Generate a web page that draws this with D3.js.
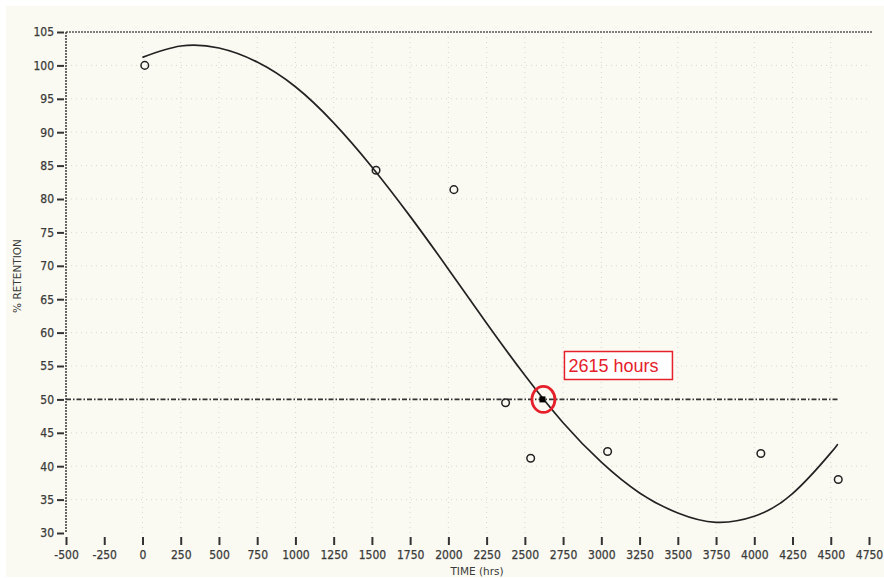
<!DOCTYPE html>
<html>
<head>
<meta charset="utf-8">
<script src="https://cdn.jsdelivr.net/npm/d3@7/dist/d3.min.js"></script>
<style>
  html, body { margin: 0; padding: 0; background: #ffffff; }
  svg { display: block; }
  .tick text { font-family: "DejaVu Sans Condensed", "DejaVu Sans", sans-serif; font-stretch: condensed; fill: #3a3a3a; stroke: #3a3a3a; stroke-width: 0.25px; }
</style>
</head>
<body>
<svg id="chart" width="884" height="578"></svg>
<script>
// Measured retention (%) at each test time (hrs)
const sampleHours = [15, 1527, 2036, 2374, 2538, 3041, 4043, 4549];
const sampleRetention = [100.0, 84.3, 81.4, 49.5, 41.2, 42.2, 41.9, 38.0];

// Fitted retention trend, time (hrs) vs % retention
const fitHours = [0, 250, 500, 750, 1000, 1250, 1500, 1750, 2000, 2250, 2500, 2750, 3000, 3250, 3500, 3750, 4000, 4250, 4500, 4540];
const fitRetention = [101.2, 102.9, 102.6, 100.5, 96.8, 91.4, 84.8, 77.4, 69.5, 61.4, 53.6, 46.5, 40.6, 36.0, 33.0, 31.6, 32.5, 35.9, 42.0, 43.2];

// Half-life marker
const halfLifeHours = 2615;
const halfLifeRetention = 50;
const halfLifeLabel = "2615 hours";

// Axis ticks
const xTicks = d3.range(-500, 4751, 250);
const yTicks = d3.range(30, 106, 5);
const xTitle = "TIME (hrs)";
const yTitle = "% RETENTION";

const svg = d3.select("#chart");

// paper background
svg.append("rect").attr("x", 6).attr("y", 6).attr("width", 878).attr("height", 571).attr("fill", "#fbfaf2");

const x = d3.scaleLinear().domain([-500, 4750]).range([66, 869]);
const y = d3.scaleLinear().domain([30, 105]).range([533, 32]);

// faint dotted grid
const grid = svg.append("g").attr("stroke", "#9a9a90").attr("stroke-opacity", 0.35)
  .attr("stroke-width", 1).attr("stroke-dasharray", "1,4");
grid.selectAll("line.v").data(xTicks.filter(d => d >= 0 && d <= 4500)).join("line")
  .attr("x1", d => x(d)).attr("x2", d => x(d)).attr("y1", y(105)).attr("y2", y(30));
grid.selectAll("line.h").data(yTicks.filter(d => d > 30 && d < 105 && d !== 50)).join("line")
  .attr("x1", x(-500)).attr("x2", x(4750)).attr("y1", d => y(d)).attr("y2", d => y(d));

// top frame line and left axis line (dotted)
svg.append("line").attr("x1", x(-500)).attr("x2", x(4750) + 3).attr("y1", y(105)).attr("y2", y(105))
  .attr("stroke", "#555").attr("stroke-width", 1.6).attr("stroke-dasharray", "2,1");
svg.append("line").attr("x1", x(-500)).attr("x2", x(-500)).attr("y1", y(105)).attr("y2", y(30))
  .attr("stroke", "#444").attr("stroke-width", 1.6).attr("stroke-dasharray", "2,1");

// y axis
const yAxis = svg.append("g").attr("transform", "translate(64,0)")
  .call(d3.axisLeft(y).tickValues(yTicks).tickSize(7).tickPadding(3).tickFormat(d => String(d)));
yAxis.select(".domain").remove();
yAxis.selectAll(".tick line").attr("stroke", "#333").attr("stroke-width", 2);
yAxis.selectAll(".tick text").attr("font-size", 12);

// x axis
const xAxis = svg.append("g").attr("transform", "translate(0,537)")
  .call(d3.axisBottom(x).tickValues(xTicks).tickSize(8).tickPadding(5).tickFormat(d => String(d)));
xAxis.select(".domain").remove();
xAxis.selectAll(".tick line").attr("stroke", "#333").attr("stroke-width", 2);
xAxis.selectAll(".tick text").attr("font-size", 12);

// axis titles
svg.append("text").attr("x", 477).attr("y", 575).attr("text-anchor", "middle")
  .attr("font-family", "DejaVu Sans, sans-serif").attr("font-size", 10.5)
  .attr("fill", "#3a3a3a").text(xTitle);
svg.append("text").attr("transform", "translate(21,276) rotate(-90)").attr("text-anchor", "middle")
  .attr("font-family", "DejaVu Sans, sans-serif").attr("font-size", 10.5)
  .attr("fill", "#3a3a3a").text(yTitle);

// 50% retention reference line (dash-dot)
svg.append("line").attr("x1", x(-500)).attr("x2", x(4545)).attr("y1", y(50)).attr("y2", y(50))
  .attr("stroke", "#333").attr("stroke-width", 1.6).attr("stroke-dasharray", "5,2,1.5,2");

// fitted curve
const line = d3.line().x((d, i) => x(fitHours[i])).y((d, i) => y(fitRetention[i])).curve(d3.curveNatural);
svg.append("path").datum(fitHours).attr("d", line)
  .attr("fill", "none").attr("stroke", "#222").attr("stroke-width", 1.7);

// measured points
svg.append("g").selectAll("circle").data(sampleHours).join("circle")
  .attr("cx", d => x(d)).attr("cy", (d, i) => y(sampleRetention[i])).attr("r", 3.8)
  .attr("fill", "none").attr("stroke", "#222").attr("stroke-width", 1.5);

// half-life marker
const hx = x(halfLifeHours), hy = y(halfLifeRetention);
svg.append("rect").attr("x", hx - 3).attr("y", hy - 3).attr("width", 6).attr("height", 6).attr("fill", "#000");
svg.append("ellipse").attr("cx", hx + 1).attr("cy", hy).attr("rx", 11.5).attr("ry", 13)
  .attr("fill", "none").attr("stroke", "#e5202a").attr("stroke-width", 2.8);

// callout label
svg.append("rect").attr("x", hx + 22).attr("y", 351.5).attr("width", 108).attr("height", 28)
  .attr("fill", "#ffffff").attr("stroke", "#e5202a").attr("stroke-width", 1.5);
svg.append("text").attr("x", hx + 26).attr("y", 371.5)
  .attr("font-family", "Liberation Sans, Arial, sans-serif").attr("font-size", 18)
  .attr("fill", "#e5202a").text(halfLifeLabel);
</script>
</body>
</html>
